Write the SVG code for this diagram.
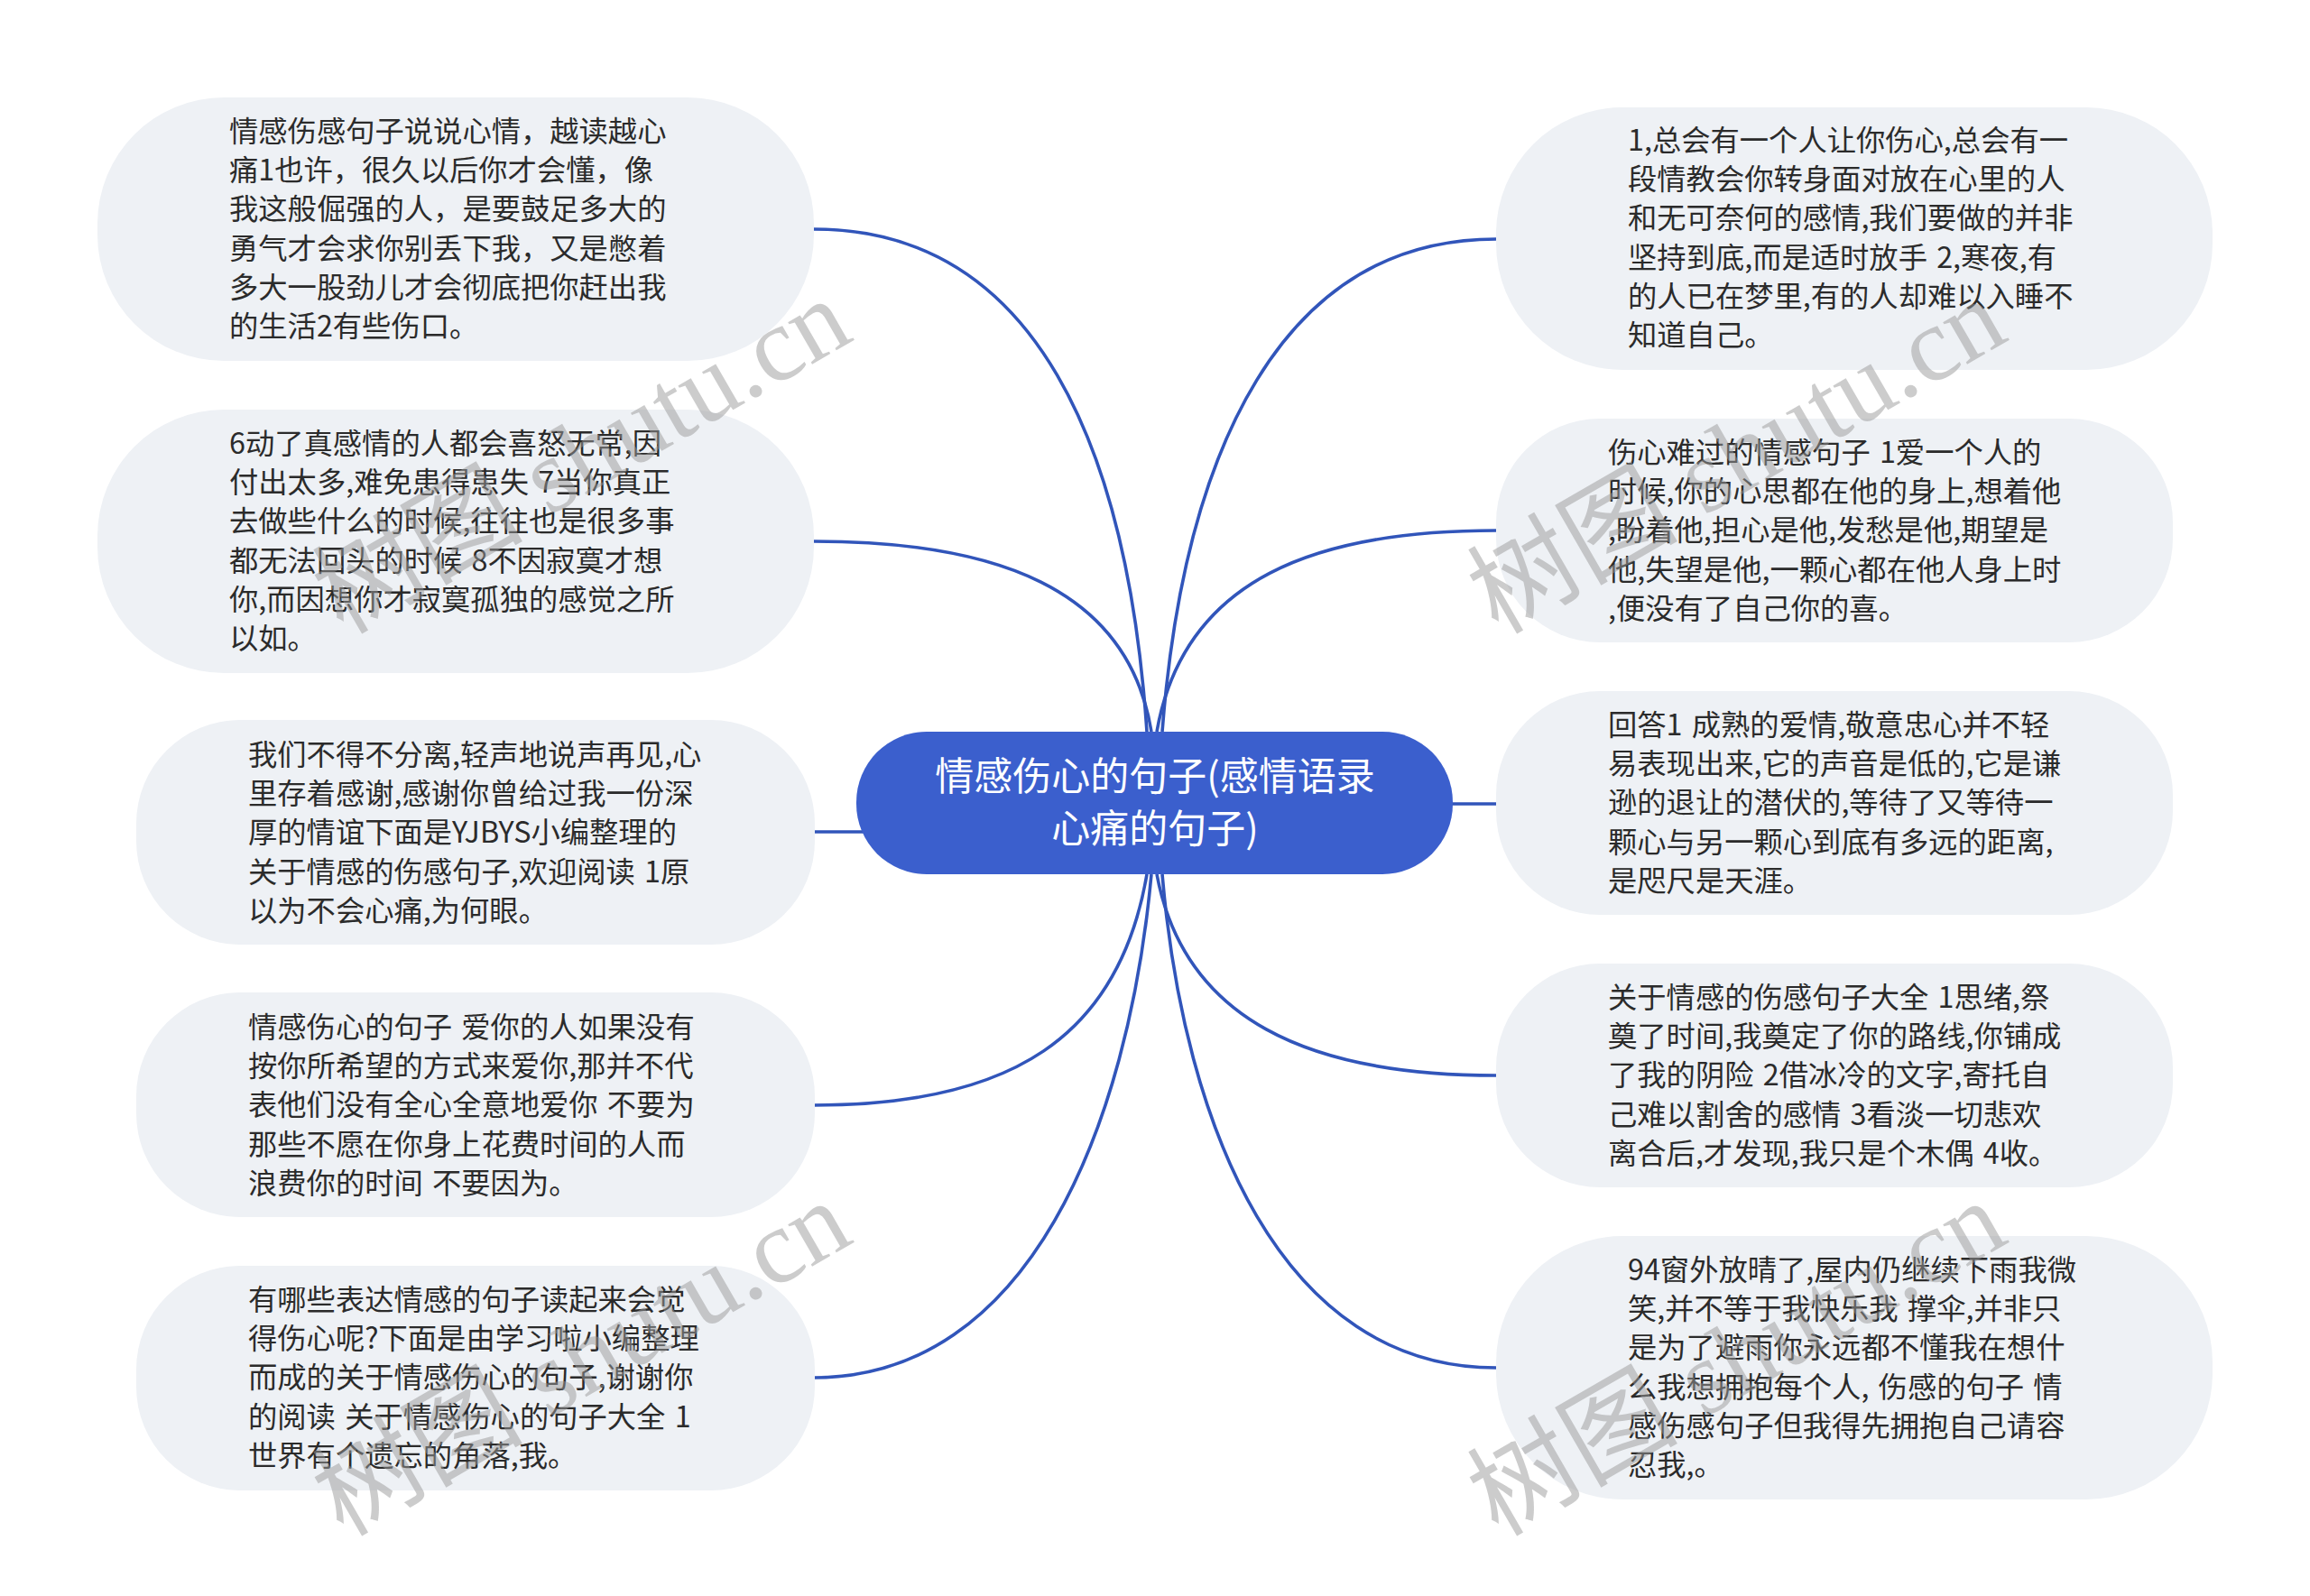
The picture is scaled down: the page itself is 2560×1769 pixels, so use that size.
<svg xmlns="http://www.w3.org/2000/svg" width="2560" height="1769" viewBox="0 0 2560 1769">
<style>
.n{fill:#eef1f5}
.t{font-family:"Noto Sans CJK SC","Liberation Sans",sans-serif;font-size:32.3px;word-spacing:3px;fill:#2b2b2b}
.c{font-family:"Noto Sans CJK SC","Liberation Sans",sans-serif;font-size:43px;fill:#fff;text-anchor:middle}
.l{fill:none;stroke:#3155ba;stroke-width:3.6}
.w{font-family:"Liberation Serif","Noto Sans CJK SC",serif;font-size:117px;fill:#999;fill-opacity:.5}
</style>
<rect width="2560" height="1769" fill="#fff"/>
<g id="connectors">
<path class="l" d="M902,254C1150,254 1250,500 1271,811"/>
<path class="l" d="M902,600C1100,600 1250,650 1276,811"/>
<path class="l" d="M902,922H960"/>
<path class="l" d="M902,1225C1120,1225 1240,1150 1271,969"/>
<path class="l" d="M902,1527C1140,1527 1250,1250 1276,969"/>
<path class="l" d="M1658,265C1420,265 1312,500 1288,811"/>
<path class="l" d="M1658,588C1460,588 1312,640 1282,811"/>
<path class="l" d="M1600,891H1658"/>
<path class="l" d="M1658,1192C1450,1192 1312,1130 1282,969"/>
<path class="l" d="M1658,1516C1420,1516 1312,1250 1288,969"/>
</g>
<g id="center"><rect x="949" y="811" width="661" height="158" rx="78" fill="#3b5fcd"/>
<text class="c"><tspan x="1280" y="876">情感伤心的句子(感情语录</tspan><tspan x="1280" y="934">心痛的句子)</tspan></text></g>
<g id="left1"><rect class="n" x="108" y="108" width="794" height="292" rx="140"/>
<text class="t"><tspan x="254" y="157">情感伤感句子说说心情，越读越心</tspan><tspan x="254" y="200">痛1也许，很久以后你才会懂，像</tspan><tspan x="254" y="243">我这般倔强的人，是要鼓足多大的</tspan><tspan x="254" y="287">勇气才会求你别丢下我，又是憋着</tspan><tspan x="254" y="330">多大一股劲儿才会彻底把你赶出我</tspan><tspan x="254" y="373">的生活2有些伤口。</tspan></text></g>
<g id="left2"><rect class="n" x="108" y="454" width="794" height="292" rx="140"/>
<text class="t"><tspan x="254" y="503">6动了真感情的人都会喜怒无常,因</tspan><tspan x="254" y="546">付出太多,难免患得患失 7当你真正</tspan><tspan x="254" y="589">去做些什么的时候,往往也是很多事</tspan><tspan x="254" y="633">都无法回头的时候 8不因寂寞才想</tspan><tspan x="254" y="676">你,而因想你才寂寞孤独的感觉之所</tspan><tspan x="254" y="719">以如。</tspan></text></g>
<g id="left3"><rect class="n" x="151" y="798" width="752" height="249" rx="115"/>
<text class="t"><tspan x="275" y="848">我们不得不分离,轻声地说声再见,心</tspan><tspan x="275" y="891">里存着感谢,感谢你曾给过我一份深</tspan><tspan x="275" y="934">厚的情谊下面是YJBYS小编整理的</tspan><tspan x="275" y="978">关于情感的伤感句子,欢迎阅读 1原</tspan><tspan x="275" y="1021">以为不会心痛,为何眼。</tspan></text></g>
<g id="left4"><rect class="n" x="151" y="1100" width="752" height="249" rx="115"/>
<text class="t"><tspan x="275" y="1150">情感伤心的句子 爱你的人如果没有</tspan><tspan x="275" y="1193">按你所希望的方式来爱你,那并不代</tspan><tspan x="275" y="1236">表他们没有全心全意地爱你 不要为</tspan><tspan x="275" y="1280">那些不愿在你身上花费时间的人而</tspan><tspan x="275" y="1323">浪费你的时间 不要因为。</tspan></text></g>
<g id="left5"><rect class="n" x="151" y="1403" width="752" height="249" rx="115"/>
<text class="t"><tspan x="275" y="1452">有哪些表达情感的句子读起来会觉</tspan><tspan x="275" y="1495">得伤心呢?下面是由学习啦小编整理</tspan><tspan x="275" y="1538">而成的关于情感伤心的句子,谢谢你</tspan><tspan x="275" y="1582">的阅读 关于情感伤心的句子大全 1</tspan><tspan x="275" y="1625">世界有个遗忘的角落,我。</tspan></text></g>
<g id="right1"><rect class="n" x="1658" y="119" width="794" height="291" rx="140"/>
<text class="t"><tspan x="1804" y="167">1,总会有一个人让你伤心,总会有一</tspan><tspan x="1804" y="210">段情教会你转身面对放在心里的人</tspan><tspan x="1804" y="253">和无可奈何的感情,我们要做的并非</tspan><tspan x="1804" y="297">坚持到底,而是适时放手 2,寒夜,有</tspan><tspan x="1804" y="340">的人已在梦里,有的人却难以入睡不</tspan><tspan x="1804" y="383">知道自己。</tspan></text></g>
<g id="right2"><rect class="n" x="1658" y="464" width="750" height="248" rx="115"/>
<text class="t"><tspan x="1782" y="513">伤心难过的情感句子 1爱一个人的</tspan><tspan x="1782" y="556">时候,你的心思都在他的身上,想着他</tspan><tspan x="1782" y="599">,盼着他,担心是他,发愁是他,期望是</tspan><tspan x="1782" y="643">他,失望是他,一颗心都在他人身上时</tspan><tspan x="1782" y="686">,便没有了自己你的喜。</tspan></text></g>
<g id="right3"><rect class="n" x="1658" y="766" width="750" height="248" rx="115"/>
<text class="t"><tspan x="1782" y="815">回答1 成熟的爱情,敬意忠心并不轻</tspan><tspan x="1782" y="858">易表现出来,它的声音是低的,它是谦</tspan><tspan x="1782" y="901">逊的退让的潜伏的,等待了又等待一</tspan><tspan x="1782" y="945">颗心与另一颗心到底有多远的距离,</tspan><tspan x="1782" y="988">是咫尺是天涯。</tspan></text></g>
<g id="right4"><rect class="n" x="1658" y="1068" width="750" height="248" rx="115"/>
<text class="t"><tspan x="1782" y="1117">关于情感的伤感句子大全 1思绪,祭</tspan><tspan x="1782" y="1160">奠了时间,我奠定了你的路线,你铺成</tspan><tspan x="1782" y="1203">了我的阴险 2借冰冷的文字,寄托自</tspan><tspan x="1782" y="1247">己难以割舍的感情 3看淡一切悲欢</tspan><tspan x="1782" y="1290">离合后,才发现,我只是个木偶 4收。</tspan></text></g>
<g id="right5"><rect class="n" x="1658" y="1370" width="794" height="292" rx="140"/>
<text class="t"><tspan x="1804" y="1419">94窗外放晴了,屋内仍继续下雨我微</tspan><tspan x="1804" y="1462">笑,并不等于我快乐我 撑伞,并非只</tspan><tspan x="1804" y="1505">是为了避雨你永远都不懂我在想什</tspan><tspan x="1804" y="1549">么我想拥抱每个人, 伤感的句子 情</tspan><tspan x="1804" y="1592">感伤感句子但我得先拥抱自己请容</tspan><tspan x="1804" y="1635">忍我,。</tspan></text></g>
<g id="watermarks">
<text class="w" transform="translate(380,704) rotate(-30)">树图 shutu.cn</text>
<text class="w" transform="translate(1660,704) rotate(-30)">树图 shutu.cn</text>
<text class="w" transform="translate(380,1704) rotate(-30)">树图 shutu.cn</text>
<text class="w" transform="translate(1660,1704) rotate(-30)">树图 shutu.cn</text>
</g>
</svg>
